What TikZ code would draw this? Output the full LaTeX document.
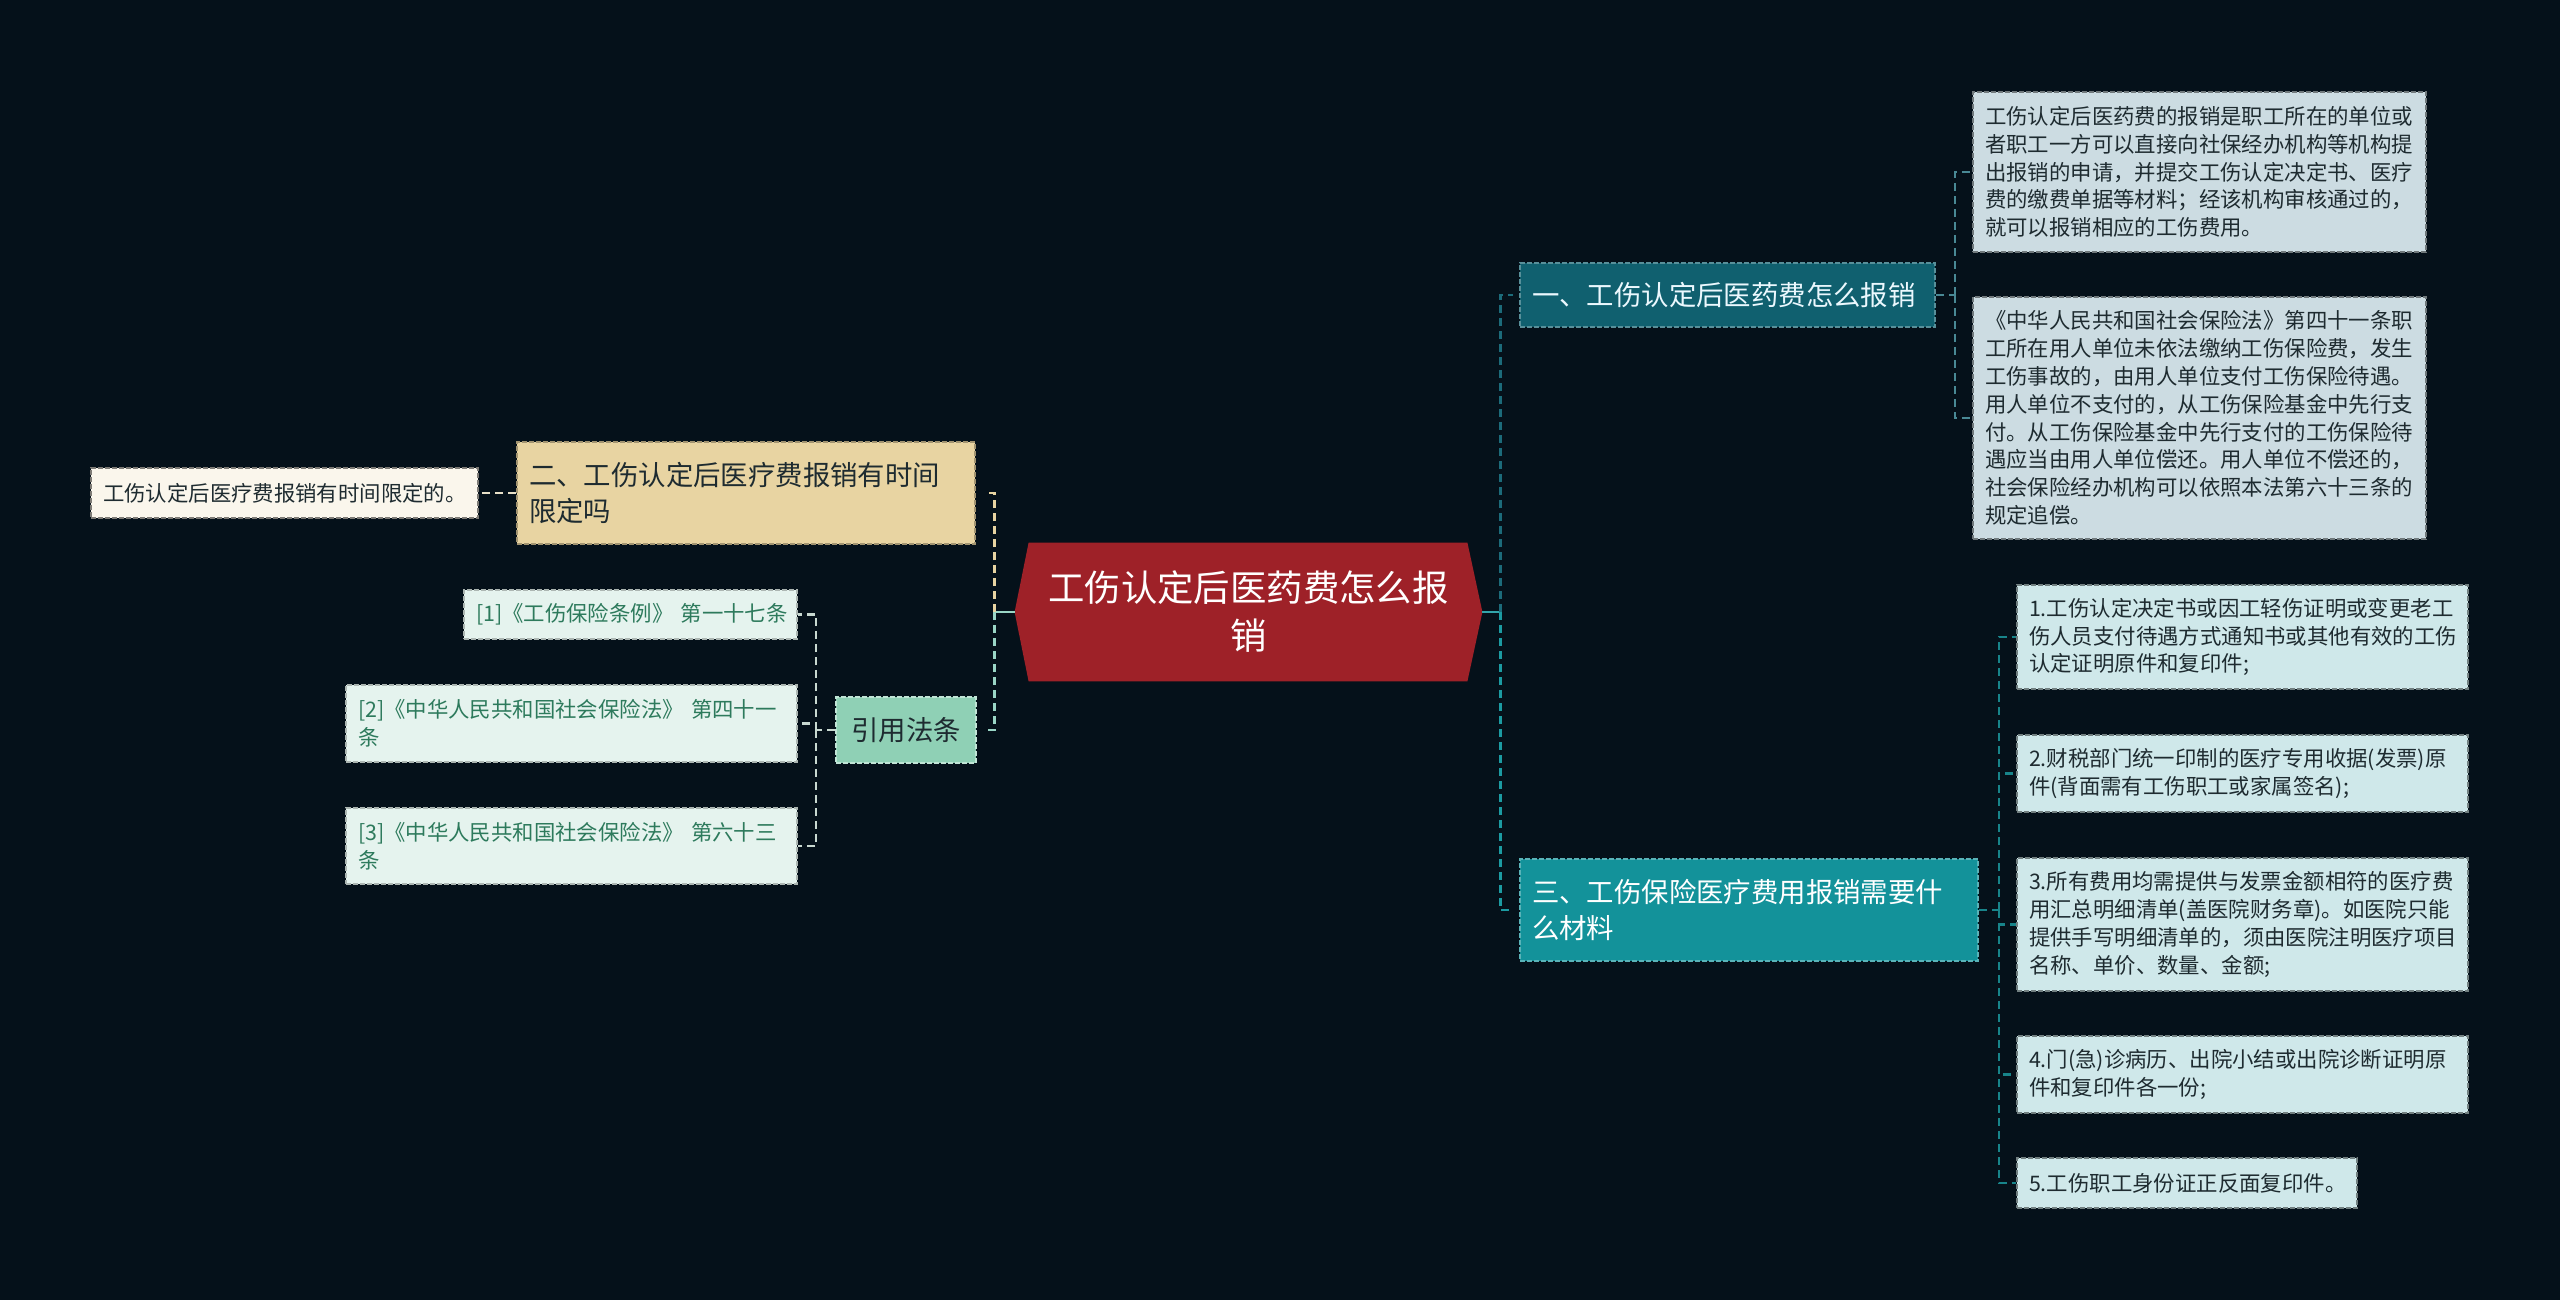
\documentclass[tikz,border=0pt]{standalone}
\usepackage{fontspec}
\setmainfont{Noto Sans CJK SC}
\usetikzlibrary{backgrounds}

\definecolor{bgdark}{HTML}{05111A}
\definecolor{rootred}{HTML}{9E2128}
\definecolor{bonefill}{HTML}{10606F}
\definecolor{bthreefill}{HTML}{13929A}
\definecolor{btwofill}{HTML}{E8D4A2}
\definecolor{bfourfill}{HTML}{8FD0B5}
\definecolor{lonefill}{HTML}{CCDCE2}
\definecolor{lthreefill}{HTML}{CFE8EA}
\definecolor{ltwofill}{HTML}{FAF6EC}
\definecolor{lfourfill}{HTML}{E5F3EE}
\definecolor{lfourtext}{HTML}{2D7A5C}
\definecolor{darktext}{HTML}{1E2B30}
\definecolor{linkone}{HTML}{1C6B7A}
\definecolor{linkthree}{HTML}{1C9BA2}
\definecolor{linkwheat}{HTML}{E8D4A2}
\definecolor{linkmint}{HTML}{9AD6C6}
\definecolor{linkgrey}{HTML}{C8D8D0}
\definecolor{linkcream}{HTML}{E8E0C8}

\newcommand\rootfont{\fontsize{18.2pt}{24pt}\selectfont}
\newcommand\branchfont{\fontsize{13.7pt}{18pt}\selectfont}
\newcommand\leaffont{\fontsize{10.7pt}{13.9pt}\selectfont}

\tikzset{
  box/.style={dash pattern=on 2.5pt off 1pt, line width=0.8pt, inner xsep=6pt, inner ysep=0pt, align=left},
  rootnode/.style={text=white, font=\rootfont, align=center, inner sep=0pt},
  branchbox/.style={box, font=\branchfont},
  leafbox/.style={box, font=\leaffont, text=darktext},
  link/.style={line width=1.25pt, dash pattern=on 4pt off 2.5pt},
  stub/.style={line width=1.25pt}
}

\begin{document}
\begin{tikzpicture}[x=0.5pt, y=-0.5pt]
  % 背景
  \useasboundingbox (0,0) rectangle (2560,1300);
  \begin{scope}[on background layer]
    \fill[bgdark] (0,0) rectangle (2560,1300);
  \end{scope}

  % 中心主题
  \node[rootnode, minimum width=233.5pt, minimum height=69pt, text width=215pt] (root) at (1248.5,612)
    {工伤认定后医药费怎么报\\销};
  \begin{scope}[on background layer]
    \fill[rootred] ([xshift=7pt]root.north west) -- ([xshift=-7.5pt]root.north east) -- (root.east)
      -- ([xshift=-7.5pt]root.south east) -- ([xshift=7pt]root.south west) -- (root.west) -- cycle;
  \end{scope}

  % 一级分支
  \node[branchbox, fill=bonefill, draw=bonefill!70!white, text=white!92!cyan, text width=195.5pt, minimum height=32pt] (b1) at (1727.5,295)
    {一、工伤认定后医药费怎么报销};
  \node[branchbox, fill=bthreefill, draw=bthreefill!70!white, text=white, text width=217pt, minimum height=51pt] (b3) at (1749,910)
    {三、工伤保险医疗费用报销需要什\\么材料};
  \node[branchbox, fill=btwofill, draw=btwofill!70!black, text=darktext, text width=217pt, minimum height=51pt] (b2) at (746,493)
    {二、工伤认定后医疗费报销有时间\\限定吗};
  \node[branchbox, fill=bfourfill, draw=bfourfill!55!white, text=darktext, align=center, text width=58pt, minimum height=33pt] (b4) at (906,730)
    {引用法条};

  % 分支一的内容
  \node[leafbox, fill=lonefill, draw=lonefill!55!black, text width=214.5pt, minimum height=80pt] (l1a) at (2199.5,172)
    {工伤认定后医药费的报销是职工所在的单位或\\者职工一方可以直接向社保经办机构等机构提\\出报销的申请，并提交工伤认定决定书、医疗\\费的缴费单据等材料；经该机构审核通过的，\\就可以报销相应的工伤费用。};
  \node[leafbox, fill=lonefill, draw=lonefill!55!black, text width=214.5pt, minimum height=121pt] (l1b) at (2199.5,418)
    {《中华人民共和国社会保险法》第四十一条职\\工所在用人单位未依法缴纳工伤保险费，发生\\工伤事故的，由用人单位支付工伤保险待遇。\\用人单位不支付的，从工伤保险基金中先行支\\付。从工伤保险基金中先行支付的工伤保险待\\遇应当由用人单位偿还。用人单位不偿还的，\\社会保险经办机构可以依照本法第六十三条的\\规定追偿。};

  % 分支三的内容
  \node[leafbox, fill=lthreefill, draw=lthreefill!55!black, text width=213.5pt, minimum height=52pt] (l31) at (2242.5,637)
    {1.工伤认定决定书或因工轻伤证明或变更老工\\伤人员支付待遇方式通知书或其他有效的工伤\\认定证明原件和复印件;};
  \node[leafbox, fill=lthreefill, draw=lthreefill!55!black, text width=213.5pt, minimum height=38.5pt] (l32) at (2242.5,773.5)
    {2.财税部门统一印制的医疗专用收据(发票)原\\件(背面需有工伤职工或家属签名);};
  \node[leafbox, fill=lthreefill, draw=lthreefill!55!black, text width=213.5pt, minimum height=66.5pt] (l33) at (2242.5,924.5)
    {3.所有费用均需提供与发票金额相符的医疗费\\用汇总明细清单(盖医院财务章)。如医院只能\\提供手写明细清单的，须由医院注明医疗项目\\名称、单价、数量、金额;};
  \node[leafbox, fill=lthreefill, draw=lthreefill!55!black, text width=213.5pt, minimum height=38.5pt] (l34) at (2242.5,1074.5)
    {4.门(急)诊病历、出院小结或出院诊断证明原\\件和复印件各一份;};
  \node[leafbox, fill=lthreefill, draw=lthreefill!55!black, text width=158pt, minimum height=25pt] (l35) at (2187,1183)
    {5.工伤职工身份证正反面复印件。};

  % 分支二的内容
  \node[leafbox, fill=ltwofill, draw=ltwofill!50!black, text width=181.5pt, minimum height=25pt] (l2a) at (284.5,493)
    {工伤认定后医疗费报销有时间限定的。};

  % 引用法条
  \node[leafbox, fill=lfourfill, draw=lfourfill!75!black, text=lfourtext, text width=154.5pt, minimum height=24.5pt] (l41) at (630.5,614.5)
    {\mbox{[1]《工伤保险条例》 第一十七条}};
  \node[leafbox, fill=lfourfill, draw=lfourfill!75!black, text=lfourtext, text width=213.5pt, minimum height=38.5pt] (l42) at (571.5,723.5)
    {[2]《中华人民共和国社会保险法》 第四十一\\条};
  \node[leafbox, fill=lfourfill, draw=lfourfill!75!black, text=lfourtext, text width=213.5pt, minimum height=38pt] (l43) at (571.5,846)
    {[3]《中华人民共和国社会保险法》 第六十三\\条};

  % 中心 -> 右侧分支
  \coordinate (rt) at ([xshift=9pt]root.east);
  \draw[stub, linkthree!90!white] (root.east) -- (rt);
  \draw[link, linkone] (rt) |- ([xshift=-3pt]b1.west);
  \draw[link, linkthree] (rt) |- ([xshift=-3pt]b3.west);

  % 中心 -> 左侧分支
  \coordinate (lt) at ([xshift=-10pt]root.west);
  \draw[stub, linkmint] (root.west) -- (lt);
  \draw[link, linkwheat] (lt) |- ([xshift=4pt]b2.east);
  \draw[link, linkmint] (lt) |- ([xshift=4pt]b4.east);

  % 分支一 -> 内容
  \coordinate (t1) at ([xshift=9.5pt]b1.east);
  \draw[link, linkone!80!white] (b1.east) -- (t1);
  \foreach \n in {l1a,l1b}
    \draw[link, linkone!80!white] (t1) |- (\n.west);

  % 分支三 -> 内容
  \coordinate (t3) at ([xshift=10pt]b3.east);
  \draw[link, linkthree!85!black] (b3.east) -- (t3);
  \foreach \n in {l31,l32,l33,l34,l35}
    \draw[link, linkthree!85!black] (t3) |- (\n.west);

  % 分支二 -> 内容
  \draw[link, linkcream] (b2.west) -- (l2a.east);

  % 引用法条 -> 条目
  \coordinate (t4) at ([xshift=-9.5pt]b4.west);
  \draw[link, linkgrey] (b4.west) -- (t4);
  \foreach \n in {l41,l42,l43}
    \draw[link, linkgrey] (t4) |- (\n.east);
\end{tikzpicture}
\end{document}
